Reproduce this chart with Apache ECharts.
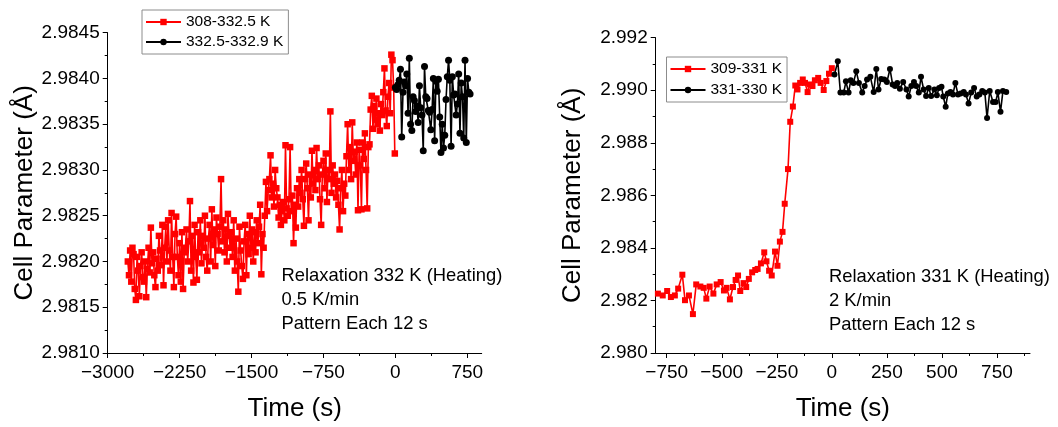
<!DOCTYPE html>
<html><head><meta charset="utf-8">
<script src="https://cdn.jsdelivr.net/npm/echarts@6/dist/echarts.min.js"></script>
<style>html,body{margin:0;padding:0;background:#fff}#c{width:1058px;height:427px}</style>
</head><body><div id="c"></div>
<script>
const leftSeriesNames = ['308-332.5 K', '332.5-332.9 K'];
const rightSeriesNames = ['309-331 K', '331-330 K'];

// Left panel: red series, one pattern every 12 s starting at -2790 s
const leftRedStart = -2790, leftRedStep = 12;
const leftRedValues = [
2.98200,2.98185,2.98212,2.98178,2.98215,2.98208,2.98170,2.98158,2.98205,2.98190,
2.98162,2.98195,2.98210,2.98183,2.98178,2.98200,2.98161,2.98192,2.98215,2.98188,
2.98237,2.98198,2.98210,2.98185,2.98172,2.98203,2.98190,2.98228,2.98212,2.98196,
2.98240,2.98174,2.98215,2.98238,2.98200,2.98245,2.98212,2.98190,2.98253,2.98205,
2.98172,2.98230,2.98249,2.98205,2.98185,2.98220,2.98178,2.98232,2.98170,2.98210,
2.98215,2.98235,2.98200,2.98222,2.98266,2.98190,2.98228,2.98177,2.98240,2.98205,
2.98180,2.98232,2.98210,2.98245,2.98198,2.98228,2.98215,2.98250,2.98205,2.98190,
2.98225,2.98240,2.98200,2.98257,2.98218,2.98235,2.98195,2.98248,2.98230,2.98212,
2.98238,2.98290,2.98222,2.98245,2.98210,2.98235,2.98200,2.98252,2.98228,2.98215,
2.98232,2.98205,2.98245,2.98190,2.98225,2.98200,2.98167,2.98238,2.98212,2.98195,
2.98181,2.98222,2.98240,2.98185,2.98230,2.98208,2.98250,2.98215,2.98235,2.98200,
2.98232,2.98210,2.98245,2.98220,2.98238,2.98262,2.98186,2.98230,2.98215,2.98250,
2.98287,2.98255,2.98278,2.98290,2.98316,2.98270,2.98285,2.98260,2.98300,2.98280,
2.98270,2.98248,2.98262,2.98240,2.98255,2.98265,2.98245,2.98327,2.98258,2.98250,
2.98268,2.98325,2.98255,2.98272,2.98220,2.98262,2.98237,2.98280,2.98260,2.98290,
2.98275,2.98300,2.98268,2.98239,2.98290,2.98307,2.98280,2.98245,2.98295,2.98270,
2.98321,2.98285,2.98300,2.98278,2.98324,2.98290,2.98305,2.98268,2.98240,2.98295,
2.98310,2.98280,2.98318,2.98265,2.98300,2.98290,2.98364,2.98275,2.98305,2.98285,
2.98295,2.98270,2.98288,2.98262,2.98235,2.98280,2.98300,2.98255,2.98285,2.98272,
2.98315,2.98350,2.98300,2.98325,2.98290,2.98352,2.98310,2.98320,2.98295,2.98330,
2.98256,2.98322,2.98305,2.98257,2.98330,2.98312,2.98340,2.98300,2.98258,2.98325,
2.98328,2.98366,2.98381,2.98345,2.98370,2.98355,2.98378,2.98350,2.98362,2.98343,
2.98372,2.98360,2.98385,2.98411,2.98365,2.98348,2.98380,2.98395,2.98362,2.98426,2.98420,2.98390,2.98318
];
// Left panel: black series
const leftBlackStart = 0, leftBlackStep = 13.2;
const leftBlackValues = [
2.98390,2.98388,2.98393,2.98398,2.98410,2.98336,2.98385,2.98396,2.98392,2.98405,
2.98362,2.98422,2.98350,2.98343,2.98380,2.98376,2.98364,2.98370,2.98352,2.98392,
2.98368,2.98360,2.98321,2.98413,2.98380,2.98378,2.98365,2.98363,2.98344,2.98366,
2.98400,2.98332,2.98397,2.98386,2.98399,2.98358,2.98319,2.98350,2.98324,2.98338,
2.98377,2.98402,2.98420,2.98398,2.98326,2.98402,2.98382,2.98383,2.98360,2.98372,
2.98405,2.98340,2.98395,2.98380,2.98335,2.98420,2.98330,2.98400,2.98385,2.98383
];

// Right panel
const rightRedTimes = [-790,-768,-748,-731,-713,-698,-679,-667,-649,-631,-616,-597,-582,-570,-555,-538,-523,-505,-490,-478,
-463,-449,-437,-426,-416,-401,-389,-377,-362,-348,-337,-322,-307,-297,-285,-273,-258,-247,-236,-224,
-214,-199,-189,-177,-166,-156,-144,-132,-122,-110,-100,-88,-77,-62,-51,-37,-25,-13,0];
const rightRedValues = [2.98226,2.98219,2.98236,2.98213,2.98219,2.98245,2.98298,2.98201,2.98219,2.98148,
2.98261,2.98253,2.98248,2.98207,2.98253,2.98226,2.98261,2.98270,2.98238,2.98248,
2.98204,2.98251,2.98278,2.98295,2.98236,2.98266,2.98251,2.98282,2.98307,2.98316,
2.98320,2.98341,2.98383,2.98349,2.98313,2.98295,2.98386,2.98332,2.98424,2.98461,
2.98568,2.98700,2.98880,2.98938,2.99018,2.99003,2.99028,2.99041,2.99028,2.98993,
2.99022,2.99016,2.99038,2.99047,2.99028,2.99001,2.99035,2.99063,2.99084];
const rightBlackTimes = [12,27,39,54,64,76,86,98,111,123,138,149,160,175,190,202,212,224,238,250,
264,276,287,297,309,324,339,349,361,373,383,395,405,417,428,440,451,466,477,487,
498,506,517,527,539,550,561,573,585,599,609,621,633,646,658,670,683,695,705,717,
732,744,754,766,777,792];
const rightBlackValues = [2.99060,2.99110,2.98991,2.98991,2.99034,2.98991,2.99038,2.99028,2.99072,2.99028,
2.98991,2.99016,2.99041,2.99051,2.98993,2.99081,2.99003,2.99043,2.99041,2.99031,
2.99081,2.99022,2.99016,2.99028,2.99006,2.99031,2.99003,2.98976,2.99016,2.99031,
2.99016,2.98991,2.99051,2.99003,2.98978,2.99009,2.98978,2.99003,2.98981,2.99009,
2.99013,2.98976,2.98937,2.98988,2.98993,2.98984,2.99028,2.98984,2.98988,2.98993,
2.98984,2.98950,2.98991,2.99009,2.98976,2.98984,2.98997,2.98991,2.98894,2.98997,
2.98955,2.98955,2.98993,2.98918,2.98997,2.98993];

// Ticks
const leftXTicks = [-3000,-2250,-1500,-750,0,750];
const leftXMinorTicks = [-2625,-1875,-1125,-375,375];
const leftYTicks = [2.9810,2.9815,2.9820,2.9825,2.9830,2.9835,2.9840,2.9845];
const leftYMinorTicks = [2.98125,2.98175,2.98225,2.98275,2.98325,2.98375,2.98425];
const rightXTicks = [-750,-500,-250,0,250,500,750];
const rightXMinorTicks = [-625,-375,-125,125,375,625,875];
const rightYTicks = [2.980,2.982,2.984,2.986,2.988,2.990,2.992];
const rightYMinorTicks = [2.981,2.983,2.985,2.987,2.989,2.991];

const xTitle = 'Time (s)';
const yTitle = 'Cell Parameter (Å)';
const leftNote = ['Relaxation 332 K (Heating)', '0.5 K/min', 'Pattern Each 12 s'];
const rightNote = ['Relaxation 331 K (Heating)', '2 K/min', 'Pattern Each 12 s'];

const FONT = '"Liberation Sans", Arial, sans-serif';
const RED = '#ff0000', BLACK = '#000000';

function stepPairs(start, step, vals) { return vals.map((v, i) => [start + step * i, v]); }
function zipPairs(ts, vals) { return vals.map((v, i) => [ts[i], v]); }
const minus = v => String(Math.round(v)).replace('-', '\u2212');

function mainX(gi, min, max, ticks) {
  return {type: 'value', gridIndex: gi, position: 'bottom', min, max,
    name: xTitle, nameLocation: 'middle', nameGap: 43,
    nameTextStyle: {fontSize: 26, fontFamily: FONT, color: '#000'},
    axisLine: {show: true, onZero: false, lineStyle: {color: '#000', width: 1}},
    axisTick: {show: true, inside: false, length: 5, customValues: ticks, lineStyle: {color: '#000'}},
    axisLabel: {show: true, customValues: ticks, margin: 10, fontSize: 19, fontFamily: FONT, color: '#000', formatter: minus},
    splitLine: {show: false}};
}
function minorX(gi, min, max, ticks) {
  return {type: 'value', gridIndex: gi, position: 'bottom', min, max,
    axisLine: {show: false, onZero: false},
    axisTick: {show: true, length: 3, customValues: ticks, lineStyle: {color: '#000'}},
    axisLabel: {show: false}, splitLine: {show: false}};
}
function mainY(gi, min, max, ticks, dec) {
  return {type: 'value', gridIndex: gi, position: 'left', min, max,
    name: yTitle, nameLocation: 'middle', nameGap: 70,
    nameTextStyle: {fontSize: 26, fontFamily: FONT, color: '#000'},
    axisLine: {show: true, onZero: false, lineStyle: {color: '#000', width: 1}},
    axisTick: {show: true, inside: false, length: 5, customValues: ticks, lineStyle: {color: '#000'}},
    axisLabel: {show: true, customValues: ticks, margin: 8, fontSize: 19, fontFamily: FONT, color: '#000', formatter: v => v.toFixed(dec)},
    splitLine: {show: false}};
}
function minorY(gi, min, max, ticks) {
  return {type: 'value', gridIndex: gi, position: 'left', min, max,
    axisLine: {show: false, onZero: false},
    axisTick: {show: true, length: 3, customValues: ticks, lineStyle: {color: '#000'}},
    axisLabel: {show: false}, splitLine: {show: false}};
}
function lineSeries(name, xi, yi, data, color, symbol, size) {
  return {type: 'line', name, xAxisIndex: xi, yAxisIndex: yi, data,
    symbol, symbolSize: size, showAllSymbol: true, showSymbol: true,
    lineStyle: {color, width: 1.6}, itemStyle: {color}, emphasis: {disabled: true}, z: 2};
}
function legendBox(left, top, names, gap) {
  return {orient: 'vertical', left, top, data: names, itemWidth: 35, itemHeight: 8, itemGap: gap,
    padding: [4, 5, 4, 3], borderColor: '#8c8c8c', borderWidth: 1, backgroundColor: '#fff',
    textStyle: {fontSize: 15.5, fontFamily: FONT, color: '#000'}, selectedMode: false};
}

const chart = echarts.init(document.getElementById('c'), null, {renderer: 'canvas'});
chart.setOption({
  animation: false,
  backgroundColor: '#fff',
  grid: [
    {left: 107.7, top: 32.7, width: 374, height: 324, containLabel: false},
    {left: 655.7, top: 37.7, width: 374.3, height: 319, containLabel: false}
  ],
  xAxis: [
    mainX(0, -3000, 900, leftXTicks), minorX(0, -3000, 900, leftXMinorTicks),
    mainX(1, -800, 900, rightXTicks), minorX(1, -800, 900, rightXMinorTicks)
  ],
  yAxis: [
    mainY(0, 2.9810, 2.9845, leftYTicks, 4), minorY(0, 2.9810, 2.9845, leftYMinorTicks),
    mainY(1, 2.980, 2.992, rightYTicks, 3), minorY(1, 2.980, 2.992, rightYMinorTicks)
  ],
  legend: [legendBox(142, 10, leftSeriesNames, 4), legendBox(666.5, 57, rightSeriesNames, 5)],
  series: [
    lineSeries(leftSeriesNames[0], 0, 0, stepPairs(leftRedStart, leftRedStep, leftRedValues), RED, 'rect', 6.5),
    lineSeries(leftSeriesNames[1], 0, 0, stepPairs(leftBlackStart, leftBlackStep, leftBlackValues), BLACK, 'circle', 7),
    lineSeries(rightSeriesNames[0], 2, 2, zipPairs(rightRedTimes, rightRedValues), RED, 'rect', 6),
    lineSeries(rightSeriesNames[1], 2, 2, zipPairs(rightBlackTimes, rightBlackValues), BLACK, 'circle', 6)
  ],
  graphic: [
    {type: 'text', left: 281.5, top: 264, silent: true,
      style: {text: leftNote.join('\n'), fontSize: 18.4, fontFamily: FONT, lineHeight: 24, fill: '#000'}},
    {type: 'text', left: 829, top: 264.7, silent: true,
      style: {text: rightNote.join('\n'), fontSize: 18.4, fontFamily: FONT, lineHeight: 24, fill: '#000'}}
  ]
});
</script>
</body></html>
